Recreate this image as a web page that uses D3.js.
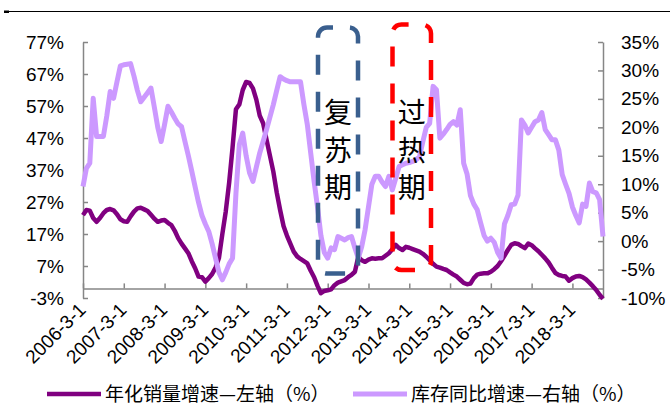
<!DOCTYPE html>
<html>
<head>
<meta charset="utf-8">
<script src="https://cdn.jsdelivr.net/npm/d3@7"></script>
<style>
  html, body { margin: 0; padding: 0; background: #fff; }
  svg { display: block; }
</style>
</head>
<body>
<svg id="chart" width="670" height="405"></svg>
<script>
// Monthly series, 2006-03 through 2018-12
const startMonth = "2006-03";

// 年化销量增速 (left axis, %)
const salesGrowth = [
  22.9, 24.5, 24.3, 22, 20.8, 22, 23.5, 24.5, 24.8, 24.4, 23.2, 21.6,
  21, 20.8, 22.5, 24, 25, 25.2, 24.7, 24.2, 23, 21.8, 20.8, 21.2,
  21.4, 20.5, 19.8, 18, 15.7, 14, 12.5, 11, 8.5, 6.3, 3.7, 3.5,
  2.1, 3.2, 4.5, 6.5, 9.5, 17, 24, 33, 44, 56, 57.5, 62,
  64.5, 64.2, 62.5, 59, 54, 51.6, 46.5, 41.5, 36.5, 30, 24.5, 19.5,
  16.5, 14, 11.5, 10, 9.2, 8.5, 7.8, 5.5, 3.5, 0.8, -1.5, -0.8,
  -0.6, -0.3, 1, 1.8, 2.2, 2.6, 3.5, 4.2, 5.2, 9.9, 8.8, 8.3,
  9, 9.4, 9.3, 9.4, 9.4, 10.2, 11, 12.2, 13.6, 12.6, 12, 13,
  12.7, 12.3, 11.9, 11.5, 10.8, 9.9, 8.8, 7.7, 6.8, 6.5, 6.1, 5.75,
  5, 4.3, 3.7, 2.7, 1.7, 1.3, 1.5, 3.2, 4.3, 4.6, 4.7, 4.7,
  5.2, 6, 7, 8.5, 10.2, 12, 13.6, 14.1, 13.9, 13.2, 12.6, 14,
  13.5, 12.5, 11.6, 10.5, 9.4, 8.1, 6.4, 4.8, 4.2, 3.9, 3.7, 2.4,
  3.2, 3.7, 3.9, 3.5, 2.8, 1.8, 0.7, -0.5, -2, -3.2
];

// 库存同比增速 (right axis, %)
const inventoryGrowth = [
  9.6, 12.8, 13.7, 25.1, 18.4, 18.4, 18.4, 22, 26.3, 25.1, 28, 30.8,
  31, 31.1, 31.2, 29, 26.5, 24.5, 25.3, 26.1, 26.9, 23.5, 20, 17.5,
  20.5, 23.7, 22.7, 21.6, 20.6, 20.1, 17.5, 15, 12.3, 9.5, 6.8, 4.5,
  3, 1.7, -0.5, -3, -5.5, -6.8, -5.5, -4, -3, 8.4, 17, 19,
  15, 12, 10.5, 13, 15.5, 17.5, 19.6, 21.8, 24, 26.5, 28.9, 28.5,
  28.2, 28, 28, 28, 28, 24, 20.5, 15.5, 10.5, 6, 1, -2,
  -3, -1.2, -1.5, 0.8, 0.5, 0.2, 0.6, 0.8, -1.2, -3, -1, 2,
  6, 10, 11.4, 11.4, 10.4, 9.6, 11.4, 9, 11, 13.1, 13.4, 13.7,
  13.8, 14, 14.3, 14.8, 17.5, 20, 20.7, 27.2, 26.6, 18.1, 18.8, 19.6,
  20.5, 21, 20.4, 23.1, 13.7, 11.8, 8, 6.5, 5.5, 3.2, 1, 0,
  0.5, -0.2, -2, -3, 3, 4.5, 6.4, 6.5, 8.1, 21.3, 20.4, 19,
  20, 21, 21.3, 22.6, 19.6, 18.7, 17.8, 17.8, 16, 11.7, 10, 8.4,
  6, 4.5, 3.2, 6.5, 6.1, 10.2, 8.7, 8.5, 7.3, 0.8
];

const xTickLabels = ["2006-3-1", "2007-3-1", "2008-3-1", "2009-3-1", "2010-3-1",
  "2011-3-1", "2012-3-1", "2013-3-1", "2014-3-1", "2015-3-1", "2016-3-1",
  "2017-3-1", "2018-3-1"];
const leftTicks = [-3, 7, 17, 27, 37, 47, 57, 67, 77];
const rightTicks = [-10, -5, 0, 5, 10, 15, 20, 25, 30, 35];
const seriesNames = ["年化销量增速—左轴（%）", "库存同比增速—右轴（%）"];
const phaseLabels = ["复苏期", "过热期"];

// month categories derived from the start month and the series length
const t0 = d3.timeParse("%Y-%m")(startMonth);
const months = d3.range(salesGrowth.length).map(i => d3.timeMonth.offset(t0, i));

const svg = d3.select("#chart");
const numFont = "'Liberation Sans', Arial, sans-serif";
const cjkFont = "'Noto Sans CJK SC', 'Liberation Sans', sans-serif";
const axisGrey = "#868686";
const darkPurple = "#800080";
const lightPurple = "#CC99FF";

const x = d3.scaleLinear().domain([0, months.length - 1]).range([83, 603]);
const yL = d3.scaleLinear().domain([-3, 77]).range([298, 42]);
const yR = d3.scaleLinear().domain([-10, 35]).range([298, 42]);

// header rule
svg.append("line").attr("x1", 4).attr("x2", 670).attr("y1", 11.5).attr("y2", 11.5)
  .attr("stroke", "#000").attr("stroke-width", 1);
svg.append("rect").attr("x", 4).attr("y", 10.5).attr("width", 5).attr("height", 2.5).attr("fill", "#000");

// axes
const styleAxis = g => {
  g.select(".domain").attr("stroke", axisGrey).attr("stroke-width", 1.5);
  g.selectAll(".tick line").attr("stroke", axisGrey).attr("stroke-width", 1.5);
  g.selectAll("text").attr("fill", "#000").style("font-family", numFont).style("font-size", "19px");
};

const gx = svg.append("g").attr("transform", `translate(0,${yL(0)})`)
  .call(d3.axisBottom(x).tickValues(d3.range(0, months.length, 12))
    .tickFormat((d, i) => xTickLabels[i]).tickSizeInner(-5).tickSizeOuter(0))
  .call(styleAxis);
gx.selectAll(".tick text")
  .attr("text-anchor", "end").attr("y", 0).attr("dy", 0)
  .attr("transform", "translate(3.5,22.5) rotate(-45)");

svg.append("g").attr("transform", `translate(${x(0)},0)`)
  .call(d3.axisLeft(yL).tickValues(leftTicks).tickFormat(d => d + "%")
    .tickSizeInner(-5).tickSizeOuter(0).tickPadding(19))
  .call(styleAxis);

svg.append("g").attr("transform", `translate(${x(months.length - 1)},0)`)
  .call(d3.axisRight(yR).tickValues(rightTicks).tickFormat(d => d + "%")
    .tickSizeInner(-5).tickSizeOuter(0).tickPadding(18))
  .call(styleAxis);

// series lines
const lineL = d3.line().x((d, i) => x(i)).y(d => yL(d));
const lineR = d3.line().x((d, i) => x(i)).y(d => yR(d));

svg.append("path").datum(salesGrowth).attr("d", lineL)
  .attr("fill", "none").attr("stroke", darkPurple).attr("stroke-width", 4.5)
  .attr("stroke-linejoin", "round");
svg.append("path").datum(inventoryGrowth).attr("d", lineR)
  .attr("fill", "none").attr("stroke", lightPurple).attr("stroke-width", 5)
  .attr("stroke-linejoin", "round");

// phase boxes (dashed, rounded corners) with vertical captions
const boxes = [
  { x1: 318, x2: 358, y1: 27.5, y2: 273.5, color: "#3A5F8E", label: phaseLabels[0], offset: 14 },
  { x1: 392.5, x2: 431, y1: 24.5, y2: 270, color: "#FF0000", label: phaseLabels[1], offset: 12.9 }
];
boxes.forEach(b => {
  svg.append("rect")
    .attr("x", b.x1).attr("y", b.y1)
    .attr("width", b.x2 - b.x1).attr("height", b.y2 - b.y1)
    .attr("rx", 9).attr("ry", 9)
    .attr("fill", "none").attr("stroke", b.color).attr("stroke-width", 4.5)
    .attr("stroke-dasharray", "20 17").attr("stroke-dashoffset", b.offset);
  const cx = (b.x1 + b.x2) / 2;
  const t = svg.append("text").attr("text-anchor", "middle")
    .style("font-family", cjkFont).style("font-size", "28px").attr("fill", "#000");
  Array.from(b.label).forEach((ch, i) => {
    t.append("tspan").attr("x", cx).attr("y", 123 + i * 37.5).text(ch);
  });
});

// legend
const legend = [
  { x: 47, color: darkPurple, w: 4.5, name: seriesNames[0] },
  { x: 353, color: lightPurple, w: 5, name: seriesNames[1] }
];
legend.forEach(l => {
  svg.append("line").attr("x1", l.x).attr("x2", l.x + 54).attr("y1", 394).attr("y2", 394)
    .attr("stroke", l.color).attr("stroke-width", l.w);
  svg.append("text").attr("x", l.x + 58).attr("y", 401)
    .style("font-family", cjkFont).style("font-size", "19px").attr("fill", "#000")
    .text(l.name);
});
</script>
</body>
</html>
